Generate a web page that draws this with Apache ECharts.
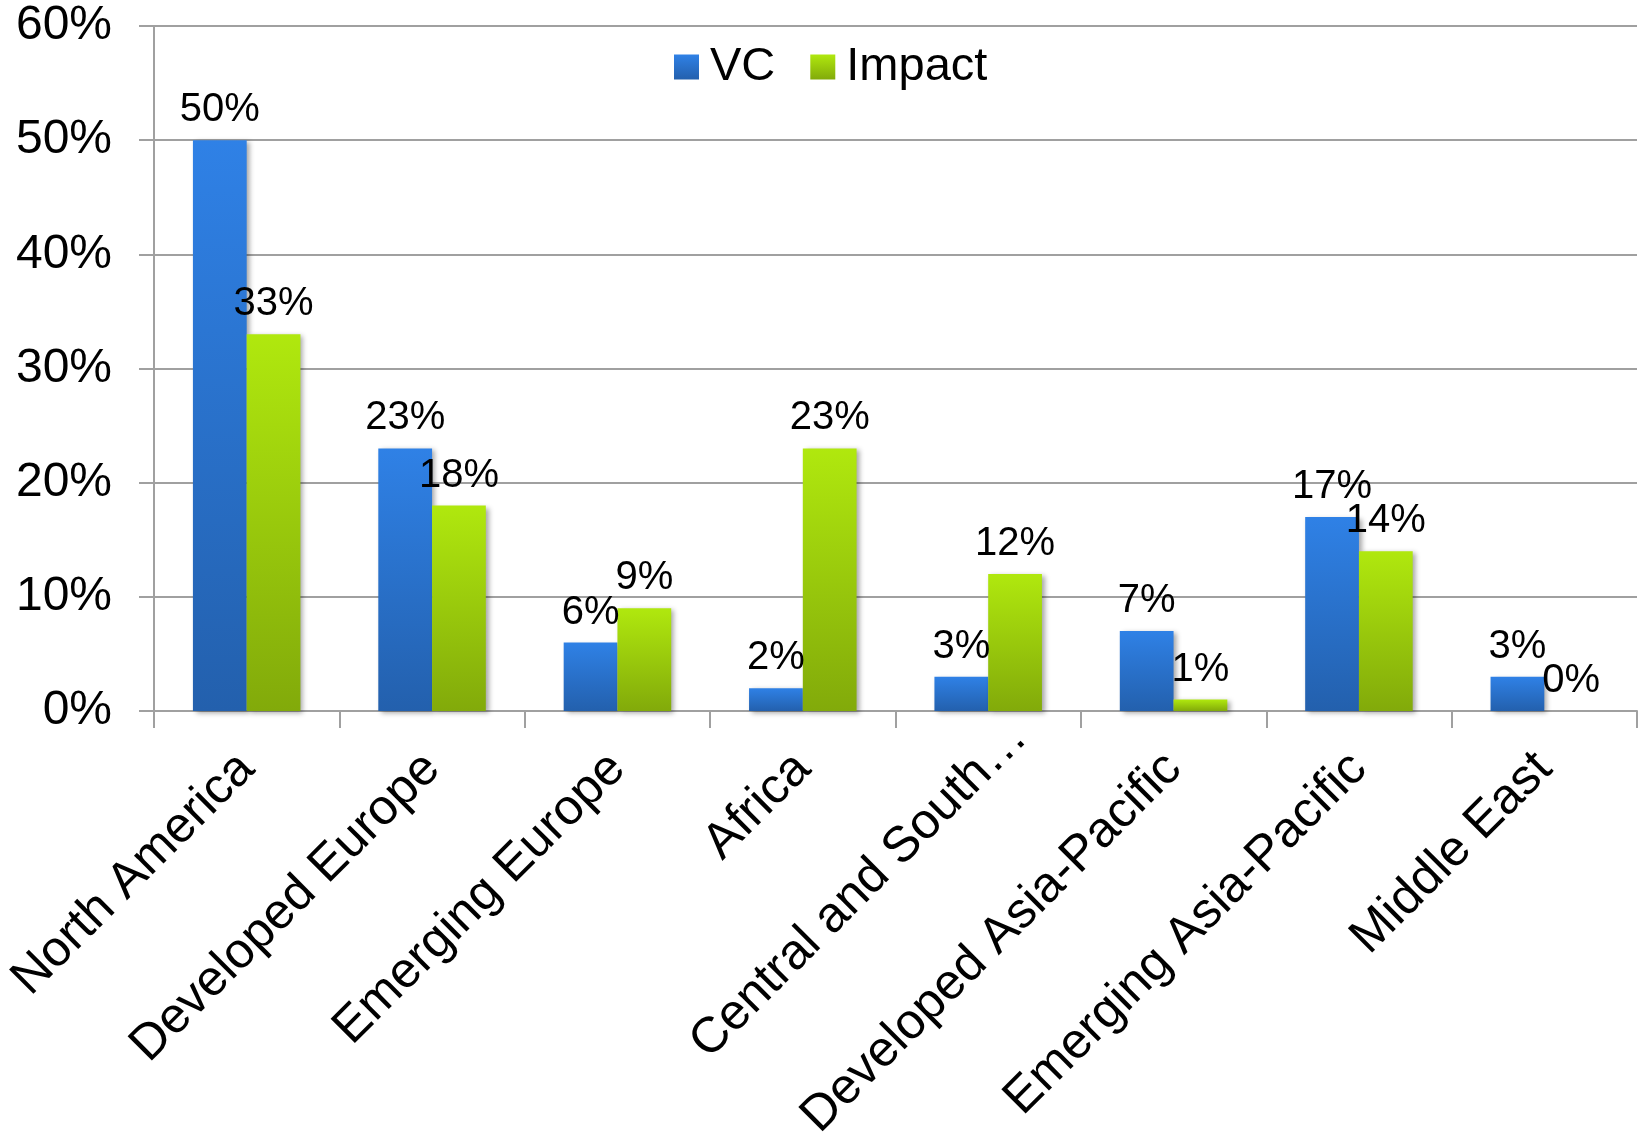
<!DOCTYPE html>
<html>
<head>
<meta charset="utf-8">
<script src="https://cdn.jsdelivr.net/npm/echarts@6/dist/echarts.min.js"></script>
<style>
html,body{margin:0;padding:0;background:#fff;}
#chart{width:1639px;height:1138px;}
</style>
</head>
<body>
<div id="chart"></div>
<script>
var categories = ["North America","Developed Europe","Emerging Europe","Africa","Central and South\u2026","Developed Asia-Pacific","Emerging Asia-Pacific","Middle East"];
var vcValues = [50,23,6,2,3,7,17,3];
var impactValues = [33,18,9,23,12,1,14,0];
var yTicks = {min:0, max:60, interval:10};

var FONT = '"Liberation Sans", Arial, sans-serif';
var gridColor = '#a0a0a0';

function grad(top, bottom){
  return new echarts.graphic.LinearGradient(0,0,0,1,[{offset:0,color:top},{offset:1,color:bottom}]);
}

var catData = categories.map(function(c, i){
  if (i === 4) return {value:c, textStyle:{padding:[0,-44,0,0]}};
  return c;
});

var chart = echarts.init(document.getElementById('chart'), null, {renderer:'canvas'});
var labelCfg = {
  show:true, position:'top', distance:10,
  formatter:'{c}%', color:'#000', fontSize:40, fontFamily:FONT
};
var shadow = {shadowColor:'rgba(0,0,0,0.35)', shadowBlur:5, shadowOffsetX:3, shadowOffsetY:2};

chart.setOption({
  animation:false,
  backgroundColor:'#fff',
  grid:{left:154, right:2, top:26, bottom:427, containLabel:false, outerBoundsMode:'none'},
  legend:{
    left:669, top:37,
    itemWidth:25, itemHeight:25, itemGap:35,
    icon:'rect',
    textStyle:{fontSize:47, fontFamily:FONT, color:'#000', lineHeight:50, padding:[0,0,0,6]},
    data:['VC','Impact']
  },
  xAxis:{
    type:'category', data:catData,
    axisLine:{show:true, lineStyle:{color:gridColor, width:2}},
    axisTick:{show:true, length:17, interval:0, alignWithLabel:false, lineStyle:{color:gridColor, width:2}},
    axisLabel:{interval:0, rotate:45, fontSize:50, fontFamily:FONT, color:'#000', margin:50},
    splitLine:{show:false}
  },
  yAxis:{
    type:'value', min:yTicks.min, max:yTicks.max, interval:yTicks.interval,
    axisLine:{show:true, lineStyle:{color:gridColor, width:2}},
    axisTick:{show:true, length:15, lineStyle:{color:gridColor, width:2}},
    axisLabel:{formatter:'{value}%', fontSize:48, fontFamily:FONT, color:'#000', margin:42},
    splitLine:{show:true, lineStyle:{color:gridColor, width:2}}
  },
  series:[
    {name:'VC', type:'bar', data:vcValues, barGap:'0%', barCategoryGap:'42%',
     itemStyle:Object.assign({color:grad('#2f81e6','#2360ad')}, shadow), label:labelCfg},
    {name:'Impact', type:'bar', data:impactValues, barGap:'0%', barCategoryGap:'42%',
     itemStyle:Object.assign({color:grad('#b0e80e','#82aa0a')}, shadow), label:labelCfg}
  ]
});
</script>
</body>
</html>
